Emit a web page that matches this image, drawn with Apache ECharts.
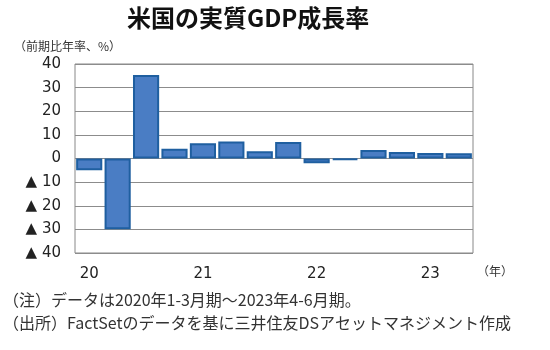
<!DOCTYPE html>
<html><head><meta charset="utf-8">
<script src="https://cdn.jsdelivr.net/npm/echarts@6/dist/echarts.min.js"></script>
<style>html,body{margin:0;padding:0;background:#fff}#c{width:550px;height:350px}</style>
</head><body><div id="c"></div>
<script>
const categories = ['20','','','','21','','','','22','','','','23',''];
const values = [-5.0, -29.9, 35.3, 4.1, 6.5, 7.2, 3.1, 7.0, -2.0, -0.6, 3.6, 2.8, 2.3, 2.2];
const yTicks = {min: -40, max: 40, interval: 10};
const titleText = '米国の実質GDP成長率';
const unitText = '（前期比年率、%）';
const yearText = '（年）';
const note1 = '（注）データは2020年1-3月期～2023年4-6月期。';
const note2 = '（出所）FactSetのデータを基に三井住友DSアセットマネジメント作成';

const chart = echarts.init(document.getElementById('c'), null, {renderer: 'canvas'});
const jp = '"Noto Sans CJK JP", sans-serif';
chart.setOption({
  animation: false,
  backgroundColor: '#fff',
  grid: {left: 75, top: 64, right: 77, bottom: 97, show: true, borderColor: '#888', borderWidth: 1},
  xAxis: {
    type: 'category', data: categories,
    axisLine: {show: false}, axisTick: {show: false},
    axisLabel: {interval: 0, color: '#222', fontSize: 15, fontFamily: 'DejaVu Sans', margin: 14}
  },
  yAxis: {
    type: 'value', min: yTicks.min, max: yTicks.max, interval: yTicks.interval,
    axisLine: {show: false}, axisTick: {show: false},
    splitLine: {lineStyle: {color: '#8c8c8c', width: 1}},
    axisLabel: {color: '#222', fontSize: 15, fontFamily: 'DejaVu Sans', margin: 14,
      formatter: v => v < 0 ? '▲ ' + (-v) : String(v)}
  },
  series: [{
    type: 'bar', data: values, barCategoryGap: '8%',
    itemStyle: {color: '#4a7dc4', borderColor: '#1f5fa0', borderWidth: 2}
  }],
  graphic: [
    {type: 'text', left: 127, top: 6, style: {text: titleText, font: 'bold 24px ' + jp, fill: '#111'}},
    {type: 'text', left: 14, top: 40, style: {text: unitText, font: '12px ' + jp, fill: '#333'}},
    {type: 'text', left: 477, top: 265, style: {text: yearText, font: '12px ' + jp, fill: '#333'}},
    {type: 'text', left: 3, top: 292, style: {text: note1, font: '16px ' + jp, fill: '#333'}},
    {type: 'text', left: 3, top: 315, style: {text: note2, font: '16px ' + jp, fill: '#333'}}
  ]
});
</script></body></html>
